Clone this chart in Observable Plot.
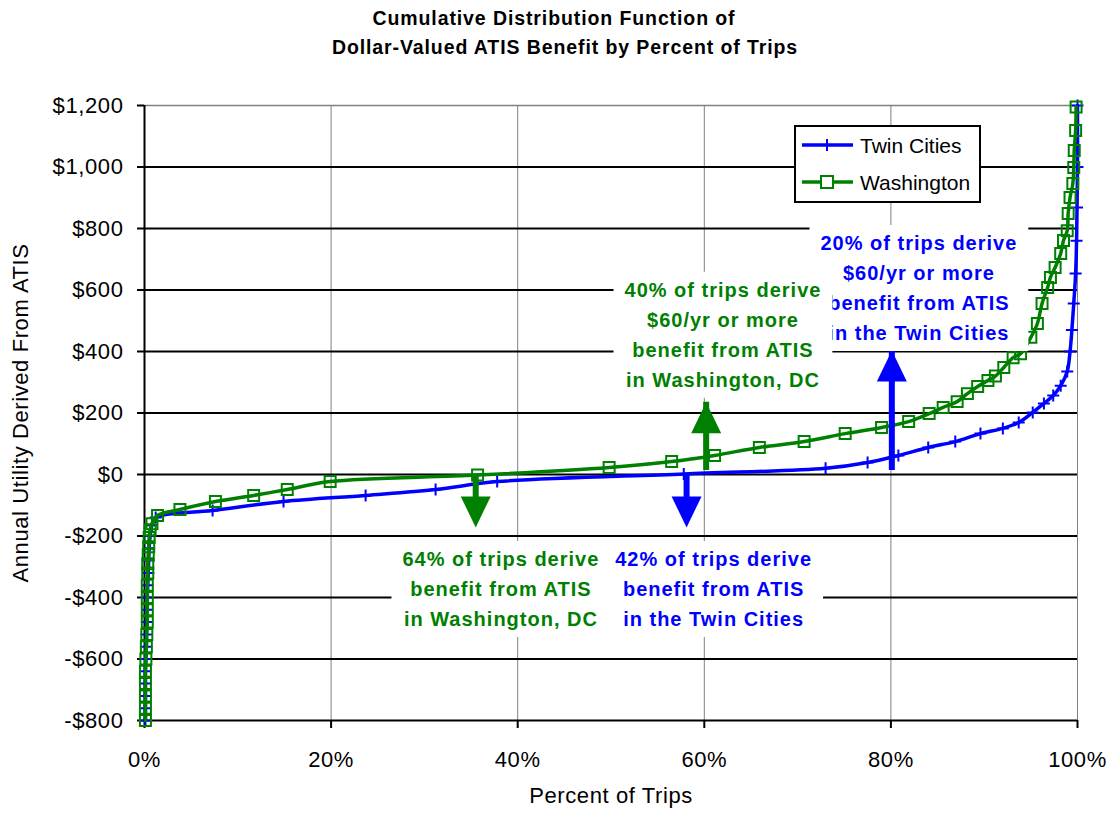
<!DOCTYPE html>
<html><head><meta charset="utf-8">
<script src="https://cdn.jsdelivr.net/npm/d3@7"></script>
<script src="https://cdn.jsdelivr.net/npm/@observablehq/plot@0.6"></script>
<style>
html,body{margin:0;padding:0;background:#fff;}
#wrap{position:relative;width:1112px;height:816px;overflow:hidden;font-family:"Liberation Sans",Arial,sans-serif;}
#title{font-weight:bold;font-size:19.5px;letter-spacing:0.9px;line-height:29px;padding-top:4px;text-align:center;color:#000;}
#chart svg{display:block;}
.ann text{letter-spacing:1px;}
#legend{position:absolute;left:794px;top:125px;font-family:"Liberation Sans",Arial,sans-serif;}
</style></head><body>
<div id="wrap">
<div id="title"><div style="padding-right:4px">Cumulative Distribution Function of</div><div style="padding-left:18px">Dollar-Valued ATIS Benefit by Percent of Trips</div></div>
<div id="chart"></div>
<svg id="legend" width="187" height="78">
  <rect x="1" y="1" width="185" height="76" fill="#fff" stroke="#000" stroke-width="2"/>
  <line x1="8" x2="59" y1="20" y2="20" stroke="#0000ff" stroke-width="3.5"/>
  <line x1="33" x2="33" y1="14" y2="26" stroke="#0000ff" stroke-width="2"/>
  <text x="66" y="20" dominant-baseline="central" font-size="21">Twin Cities</text>
  <line x1="8" x2="59" y1="57" y2="57" stroke="#008000" stroke-width="3.5"/>
  <rect x="27" y="51" width="12" height="12" fill="#fff" stroke="#008000" stroke-width="2"/>
  <text x="66" y="57" dominant-baseline="central" font-size="21">Washington</text>
</svg>
</div>
<script>
// ---- data (percent of trips, annual utility $) ----
const tcPct = [0.1,0.1,0.1,0.1,0.1,0.15,0.2,0.2,0.25,0.3,0.3,0.35,0.4,0.45,0.5,0.6,0.8,1.2,7.3,14.9,23.7,31.2,37.8,57.8,73.0,77.5,80.8,84.0,86.9,89.6,92.0,93.7,95.2,96.4,97.4,98.2,98.9,99.2,99.4,99.6,99.8,99.9,99.95,100,100];
const tcVal = [-800,-760,-720,-680,-640,-600,-560,-520,-480,-440,-400,-360,-320,-280,-240,-200,-165,-140,-117,-88,-68,-49,-23,2,20,39,62,88,107,133,150,169,202,231,257,289,335,400,470,556,654,760,868,1000,1200];
const waPct = [0.1,0.1,0.1,0.1,0.1,0.15,0.2,0.25,0.3,0.3,0.3,0.3,0.35,0.35,0.4,0.45,0.5,0.6,0.8,1.4,3.8,7.6,11.7,15.3,19.9,35.7,49.8,56.5,61.1,65.9,70.7,75.1,79.0,81.9,84.1,85.6,87.1,88.2,89.3,90.4,91.2,92.1,93.1,93.9,95.0,95.7,96.2,96.8,97.1,97.6,98.2,98.5,98.9,99.0,99.2,99.5,99.6,99.65,99.8,99.85];
const waVal = [-800,-760,-720,-680,-640,-600,-560,-520,-480,-440,-400,-360,-320,-290,-260,-235,-205,-180,-160,-133,-114,-88,-68,-49,-23,-2,23,42,62,88,107,133,153,172,198,218,237,263,286,306,320,348,380,393,446,491,556,608,641,673,719,761,793,849,901,946,998,1054,1119,1195];
const seriesNames = ["Twin Cities","Washington"];
const xTicks = [0,20,40,60,80,100];
const yTicks = [-800,-600,-400,-200,0,200,400,600,800,1000,1200];
// annotation arrows
const arrowSeries = ["Washington","Twin Cities","Washington","Twin Cities"];
const arrowX = [35.5,58.1,60.2,80.1];
const arrowFrom = [0,3,78,78];
const arrowTo = [-172,-172,235,403];
// annotation notes
const noteSeries = ["Twin Cities","Washington","Washington","Twin Cities"];
const noteX = [83.0,62.0,38.2,61.0];
const noteY = [615,463,-364,-364];
const noteText = [
  "20% of trips derive\n$60/yr or more\nbenefit from ATIS\nin the Twin Cities",
  "40% of trips derive\n$60/yr or more\nbenefit from ATIS\nin Washington, DC",
  "64% of trips derive\nbenefit from ATIS\nin Washington, DC",
  "42% of trips derive\nbenefit from ATIS\nin the Twin Cities"
];

const tc = tcPct.map((p,i)=>({pct:p, val:tcVal[i]}));
const wa = waPct.map((p,i)=>({pct:p, val:waVal[i]}));
const arrows = arrowX.map((x,i)=>({x, from:arrowFrom[i], to:arrowTo[i], series:arrowSeries[i]}));
const notes = noteX.map((x,i)=>({x, y:noteY[i], text:noteText[i], series:noteSeries[i]}));

const headDown = {draw(c){c.moveTo(0,0);c.lineTo(-15,-31);c.lineTo(15,-31);c.closePath();}};
const headUp = {draw(c){c.moveTo(0,0);c.lineTo(-15,31);c.lineTo(15,31);c.closePath();}};
const plus = {draw(c){c.moveTo(0,-6);c.lineTo(0,6);c.moveTo(-6,0);c.lineTo(6,0);}};
const fmtY = v => (v<0?"-":"") + "$" + d3.format(",")(Math.abs(v));

const chart = Plot.plot({
  width: 1112, height: 754,
  marginTop: 43, marginBottom: 96, marginLeft: 144, marginRight: 35,
  style: {fontFamily: '"Liberation Sans", Arial, sans-serif', fontSize: "22px", letterSpacing: "0.6px", background: "#fff", color: "#000", overflow: "visible"},
  x: {domain: [0,100]},
  y: {domain: [-800,1200]},
  color: {domain: seriesNames, range: ["#0000ff","#008000"]},
  marks: [
    Plot.gridX(xTicks.slice(1), {stroke:"#808080", strokeOpacity:1, strokeWidth:1}),
    Plot.gridY(yTicks.slice(0,-1), {stroke:"#000", strokeOpacity:1, strokeWidth:2}),
    Plot.ruleY([1200], {stroke:"#808080", strokeWidth:1.5}),
    Plot.ruleX([0], {stroke:"#000", strokeWidth:2}),
    Plot.axisY(yTicks, {tickFormat: fmtY, tickSize:7, tickPadding:14, strokeWidth:2, fontSize:22, label:null}),
    Plot.axisX(xTicks, {tickFormat: d=>d+"%", tickSize:8, tickPadding:23, strokeWidth:2, fontSize:22, label:null}),
    Plot.line(tc, {x:"pct", y:"val", stroke:"#0000ff", strokeWidth:3.5, curve:"catmull-rom"}),
    Plot.dot(tc, {x:"pct", y:"val", symbol:plus, stroke:"#0000ff", strokeWidth:2, fill:"none"}),
    Plot.line(wa, {x:"pct", y:"val", stroke:"#008000", strokeWidth:3.5, curve:"catmull-rom"}),
    Plot.dot(wa, {x:"pct", y:"val", symbol:"square", r:6.2, stroke:"#008000", strokeWidth:2, fill:"none"}),
    Plot.ruleX(arrows, {filter:d=>d.to<d.from, x:"x", y1:"from", y2:"to", stroke:"series", strokeWidth:6, insetBottom:20}),
    Plot.ruleX(arrows, {filter:d=>d.to>d.from, x:"x", y1:"from", y2:"to", stroke:"series", strokeWidth:6, insetTop:20}),
    Plot.dot(arrows, {filter:d=>d.to<d.from, x:"x", y:"to", symbol:headDown, fill:"series", stroke:"none"}),
    Plot.dot(arrows, {filter:d=>d.to>d.from, x:"x", y:"to", symbol:headUp, fill:"series", stroke:"none"}),
    Plot.text(notes, {x:"x", y:"y", text:"text", fill:"series", fontSize:20, fontWeight:"bold", lineHeight:1.5, className:"ann"}),
    Plot.text(["Percent of Trips"], {frameAnchor:"bottom", dy:82, fontSize:22}),
    Plot.text(["Annual Utility Derived From ATIS"], {frameAnchor:"left", textAnchor:"middle", dx:-124, rotate:-90, fontSize:22})
  ]
});
document.getElementById("chart").appendChild(chart);

// white boxes behind the annotation texts
const padX = 11, padY = 7;
chart.querySelectorAll("g.ann text").forEach(t => {
  const b = t.getBBox();
  const r = document.createElementNS("http://www.w3.org/2000/svg","rect");
  r.setAttribute("x", b.x - padX);
  r.setAttribute("y", b.y - padY);
  r.setAttribute("width", b.width + 2*padX);
  r.setAttribute("height", b.height + 2*padY);
  r.setAttribute("fill", "#fff");
  const tr = t.getAttribute("transform");
  if (tr) r.setAttribute("transform", tr);
  t.parentNode.insertBefore(r, t);
});
</script>
</body></html>
